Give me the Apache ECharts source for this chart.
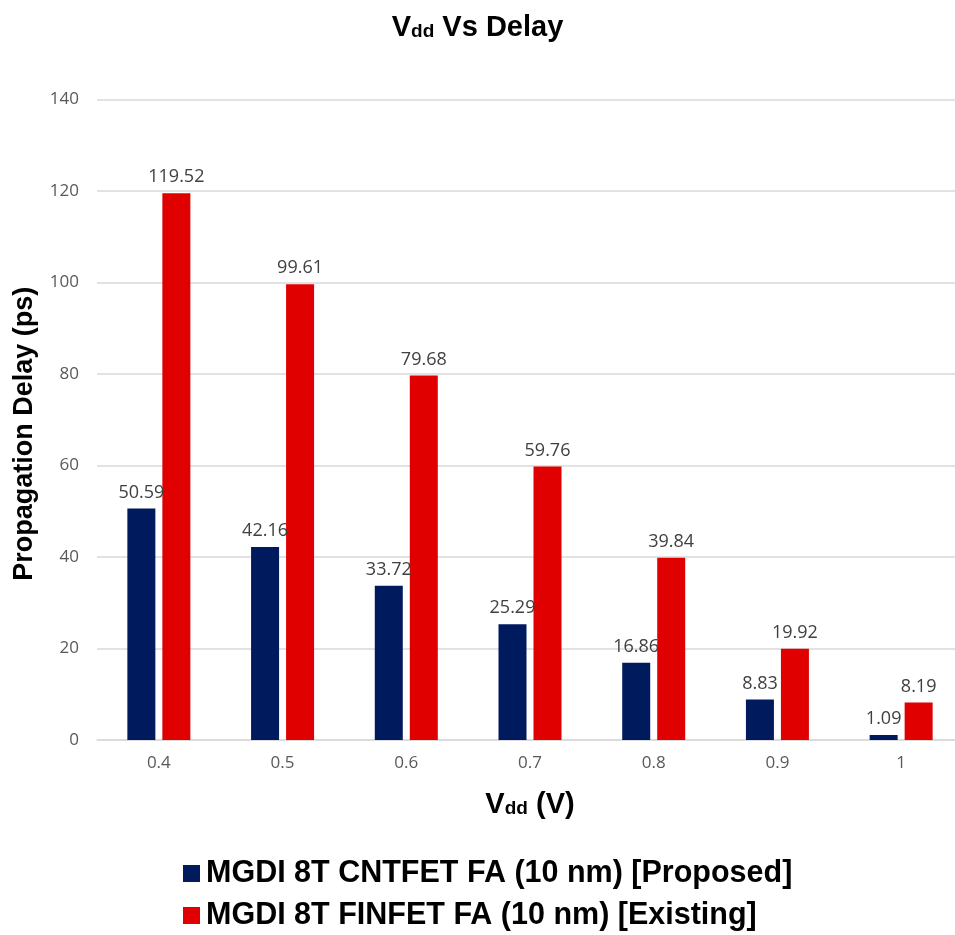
<!DOCTYPE html>
<html>
<head>
<meta charset="utf-8">
<script src="https://cdn.jsdelivr.net/npm/echarts@6/dist/echarts.min.js"></script>
<style>html,body{margin:0;padding:0;background:#fff}#c{width:955px;height:935px}</style>
</head>
<body>
<div id="c"></div>
<script>
const categories = ['0.4', '0.5', '0.6', '0.7', '0.8', '0.9', '1'];
const proposedValues = [50.59, 42.16, 33.72, 25.29, 16.86, 8.83, 1.09];
const existingValues = [119.52, 99.61, 79.68, 59.76, 39.84, 19.92, 8.19];
const seriesNames = ['MGDI 8T CNTFET FA (10 nm) [Proposed]', 'MGDI 8T FINFET FA (10 nm) [Existing]'];
const yTicks = { min: 0, max: 140, interval: 20 };

const chart = echarts.init(document.getElementById('c'), null, { renderer: 'canvas' });
const boldFont = 'Liberation Sans, Arial, sans-serif';
const labelFont = 'Open Sans, sans-serif';
const dataLabel = {
  show: true, position: 'top', distance: 7,
  color: '#404040', fontSize: 18, fontFamily: labelFont
};
const richName = {
  v: { fontSize: 29, fontWeight: 'bold', fontFamily: boldFont, color: '#000', lineHeight: 32, verticalAlign: 'top' },
  s: { fontSize: 19, fontWeight: 'bold', fontFamily: boldFont, color: '#000', lineHeight: 32, verticalAlign: 'top', padding: [9, 0, 0, 0] }
};
chart.setOption({
  animation: false,
  backgroundColor: '#ffffff',
  title: {
    text: '{v|V}{s|dd}{v| Vs Delay}',
    left: 'center', top: 8,
    textStyle: { rich: richName }
  },
  grid: { left: 97, right: -8, top: 99.5, bottom: 195, containLabel: false, outerBoundsMode: 'none' },
  legend: {
    orient: 'vertical', left: 183, top: 858, padding: 0,
    itemWidth: 17, itemHeight: 17, itemGap: 11,
    icon: 'rect',
    textStyle: { fontSize: 30.5, fontWeight: 'bold', fontFamily: boldFont, color: '#000', lineHeight: 30, padding: [0, 0, 0, 1] },
    data: seriesNames
  },
  xAxis: {
    type: 'category', data: categories,
    axisLine: { show: true, lineStyle: { color: '#d9d9d9', width: 1.5 } },
    axisTick: { show: false },
    axisLabel: { color: '#595959', fontSize: 17, fontFamily: labelFont, margin: 15 },
    name: '{v|V}{s|dd}{v| (V)}',
    nameLocation: 'middle', nameGap: 50,
    nameTextStyle: { rich: richName }
  },
  yAxis: {
    type: 'value', min: yTicks.min, max: yTicks.max, interval: yTicks.interval,
    axisLine: { show: false }, axisTick: { show: false },
    splitLine: { lineStyle: { color: '#d9d9d9', width: 1.5 } },
    axisLabel: { color: '#595959', fontSize: 17, fontFamily: labelFont, margin: 18 },
    name: 'Propagation Delay (ps)',
    nameLocation: 'middle', nameRotate: 90, nameGap: 59,
    nameTextStyle: { fontSize: 27, fontWeight: 'bold', fontFamily: boldFont, color: '#000', padding: [0, 28, 0, 0] }
  },
  series: [
    {
      name: seriesNames[0], type: 'bar', data: proposedValues,
      barWidth: 28, barGap: '25%',
      itemStyle: { color: '#001A5E' },
      label: dataLabel
    },
    {
      name: seriesNames[1], type: 'bar', data: existingValues,
      barWidth: 28, barGap: '25%',
      itemStyle: { color: '#E00000' },
      label: dataLabel
    }
  ]
});
</script>
</body>
</html>
